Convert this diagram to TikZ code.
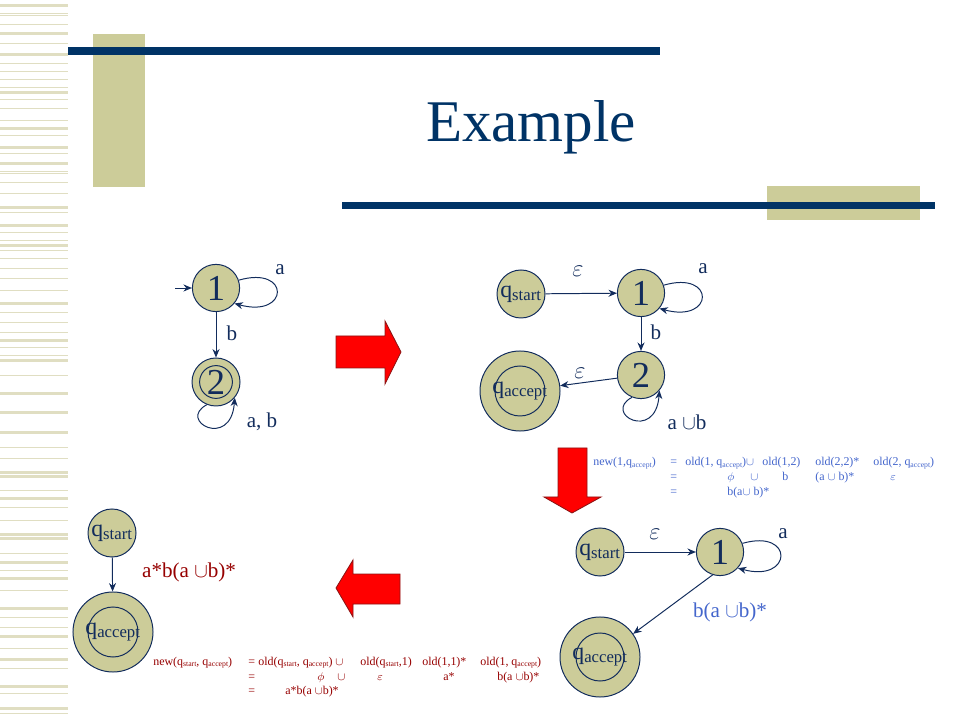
\documentclass[tikz,border=0pt]{standalone}
\usepackage{fontspec}
\setmainfont{Liberation Serif}
\usetikzlibrary{arrows.meta}

\definecolor{navy}{RGB}{0,51,102}
\definecolor{khaki}{RGB}{204,204,153}
\definecolor{stripe}{RGB}{224,222,194}
\definecolor{ink}{RGB}{18,44,92}
\definecolor{fblue}{RGB}{68,102,204}
\definecolor{fred}{RGB}{150,0,0}
\definecolor{arrowred}{RGB}{255,0,0}
\definecolor{arrowrim}{RGB}{140,20,20}

\newcommand{\fsub}[1]{\raisebox{-0.35ex}{\fontsize{5.5}{6}\selectfont #1}}

\begin{document}
\begin{tikzpicture}[x=0.025cm, y=-0.025cm,
  state/.style={circle, draw=ink, fill=khaki, line width=0.7pt, inner sep=0pt,
    minimum size=1.18cm, text=ink, font=\fontsize{26}{26}\selectfont},
  qstate/.style={state, minimum size=1.2cm, font=\fontsize{17}{17}\selectfont},
  final/.style={qstate, minimum size=2cm},
  edge/.style={draw=ink, line width=0.7pt, -{Stealth[length=6pt,width=5pt]}},
  lbl/.style={text=ink, font=\fontsize{15}{15}\selectfont},
  eps/.style={text=ink, font=\fontsize{19}{19}\selectfont},
  fone/.style={text=fblue, anchor=base west, inner sep=0pt, font=\fontsize{8.5}{9}\selectfont},
  ftwo/.style={fone, text=fred},
  bigarrow/.style={fill=arrowred, draw=arrowrim, line width=0.6pt}]

\useasboundingbox (0,0) rectangle (960,720);

% Полосы слева
\foreach \y in {4,32,53,91,127,146,162,206,224,244,302,339,359,392,411,431,471,475,497,533,537,561,577,607,635,658,685,707}
  \fill[stripe] (0,\y) rectangle (68,\y+3);
\foreach \y in {13,15,24,43,63,71,79,87,99,108,120,135,153,171,173,182,193,212,232,240,250,258,268,278,290,312,322,332,347,355,375,447,458,490,507,520,553,570,590,617,627,648,668,693,713}
  \draw[stripe, line width=0.5pt] (0,\y) -- (68,\y);

% Заголовок
\fill[khaki] (93,34) rectangle (145,187);
\fill[navy] (68,47) rectangle (660,55);
\fill[khaki] (767,186) rectangle (920,220);
\fill[navy] (342,202) rectangle (935,209);
\node[text=navy, anchor=base, font=\fontsize{42}{42}\selectfont] (title) at (531,142) {Example};

% Автомат 1
\node[state] (g1a) at (216,288) {1};
\node[state, minimum size=1.2cm] (g1b) at (216,382) {2};
\draw[ink, line width=0.7pt] (g1b) circle[radius=0.41cm];
\coordinate (g1i) at (175,288);
\draw[edge] (g1i) -- (g1a);
\draw[edge] (g1a) -- (g1b);
\draw[edge] (g1a.19) .. controls +(52,-15) and +(55,15) .. (g1a.-40);
\draw[edge] (g1b.-112) .. controls +(-30,16) and +(-4,52) .. (g1b.-40);
\node[lbl] (g1la) at (280,270) {a};
\node[lbl] (g1lb) at (232,333) {b};
\node[lbl] (g1lab) at (262,422) {a, b};

% Автомат 2
\node[qstate] (g2s) at (521,294) {q\textsubscript{start}};
\node[state] (g2a) at (641,293) {1};
\node[state] (g2b) at (641,375) {2};
\node[final] (g2f) at (520,391) {q\textsubscript{accept}};
\draw[ink, line width=0.7pt] (g2f) circle[radius=0.625cm];
\draw[edge] (g2s) -- (g2a);
\draw[edge] (g2a) -- (g2b);
\draw[edge] (g2b) -- (g2f);
\draw[edge] (g2a.19) .. controls +(52,-15) and +(55,15) .. (g2a.-40);
\draw[edge] (g2b.-112) .. controls +(-30,16) and +(-4,52) .. (g2b.-40);
\node[eps] (g2le) at (578,271) {$\varepsilon$};
\node[lbl] (g2la) at (703,269) {a};
\node[lbl] (g2lb) at (656,332) {b};
\node[eps] (g2lf) at (580,373) {$\varepsilon$};
\node[lbl] (g2lab) at (687,422) {a $\cup$b};

% Автомат 3
\node[qstate] (g3s) at (600,552) {q\textsubscript{start}};
\node[state] (g3a) at (720,552) {1};
\node[final] (g3f) at (600,657) {q\textsubscript{accept}};
\draw[ink, line width=0.7pt] (g3f) circle[radius=0.6cm];
\draw[edge] (g3s) -- (g3a);
\draw[edge] (g3a.-108) -- (g3f.35);
\draw[edge] (g3a.21) .. controls +(52,-15) and +(55,15) .. (g3a.-42);
\node[eps] (g3le) at (655,534) {$\varepsilon$};
\node[lbl] (g3la) at (783,534) {a};
\node[lbl, text=fblue] (g3lf) at (730,612) {b(a $\cup$b)*};

% Автомат 4
\node[qstate] (g4s) at (112,533) {q\textsubscript{start}};
\node[final] (g4f) at (113,632) {q\textsubscript{accept}};
\draw[ink, line width=0.7pt] (g4f) circle[radius=0.625cm];
\draw[edge] (g4s) -- (g4f);
\node[lbl, text=fred] (g4lf) at (189,572) {a*b(a $\cup$b)*};

% Красные стрелки
\filldraw[bigarrow] (336,336) -- (385,336) -- (385,321) -- (401,352) -- (385,384) -- (385,368) -- (336,368) -- cycle;
\filldraw[bigarrow] (558,448) -- (587,448) -- (587,497) -- (601,497) -- (572,513) -- (544,497) -- (558,497) -- cycle;
\filldraw[bigarrow] (400,574) -- (353,574) -- (353,560) -- (336,588) -- (353,617) -- (353,604) -- (400,604) -- cycle;

% Формула 1
\foreach \x/\t [count=\i] in {593/{new(1,q\fsub{accept})}, 670/{=}, 685/{old(1, q\fsub{accept})$\cup$}, 762/{old(1,2)}, 815/{old(2,2)*}, 873/{old(2, q\fsub{accept})}}
  \node[fone] (fa\i) at (\x,466) {\t};
\foreach \x/\t [count=\i] in {670/{=}, 727/{$\phi$}, 750/{$\cup$}, 782/{b}, 815/{(a $\cup$ b)*}, 890/{$\varepsilon$}}
  \node[fone] (fb\i) at (\x,481) {\t};
\foreach \x/\t [count=\i] in {670/{=}, 727/{b(a$\cup$ b)*}}
  \node[fone] (fc\i) at (\x,496) {\t};

% Формула 2
\foreach \x/\t [count=\i] in {153/{new(q\fsub{start}, q\fsub{accept})}, 248/{=}, 258/{old(q\fsub{start}, q\fsub{accept}) $\cup$}, 360/{old(q\fsub{start},1)}, 422/{old(1,1)*}, 480/{old(1, q\fsub{accept})}}
  \node[ftwo] (fd\i) at (\x,665) {\t};
\foreach \x/\t [count=\i] in {248/{=}, 317/{$\phi$}, 337/{$\cup$}, 377/{$\varepsilon$}, 443/{a*}, 497/{b(a $\cup$b)*}}
  \node[ftwo] (fe\i) at (\x,680) {\t};
\foreach \x/\t [count=\i] in {248/{=}, 285/{a*b(a $\cup$b)*}}
  \node[ftwo] (ff\i) at (\x,694) {\t};
\end{tikzpicture}
\end{document}
